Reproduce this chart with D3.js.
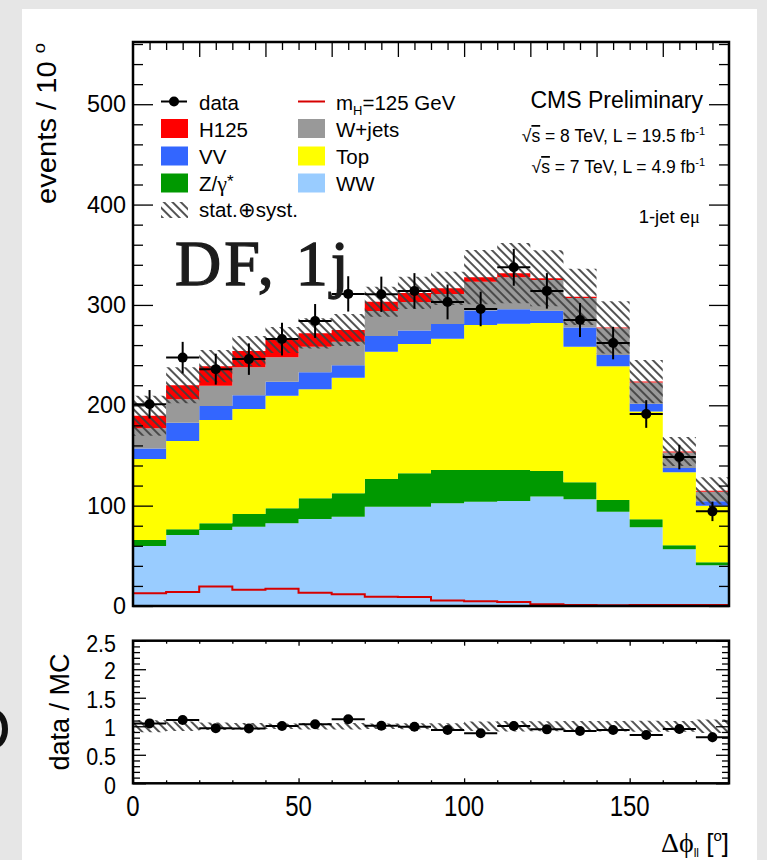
<!DOCTYPE html>
<html>
<head>
<meta charset="utf-8">
<script src="https://cdn.jsdelivr.net/npm/d3@7.9.0/dist/d3.min.js"></script>
<style>
  html, body { margin: 0; padding: 0; background: #e6e6e6; }
  svg { display: block; }
</style>
</head>
<body>
<div id="chart"></div>
<script>
// Delta phi_ll bins, 10 degrees wide
const edges = [0, 10, 20, 30, 40, 50, 60, 70, 80, 90, 100, 110, 120, 130, 140, 150, 160, 170, 180];

// stacked backgrounds (events per bin), bottom to top
const ww       = [59.8, 70.7, 75.7, 79, 82.4, 86.7, 89, 99, 99, 102.3, 104, 104.6, 109, 106.3, 94, 78.4, 56.5, 40.6];
const zgamma   = [6, 5.7, 6.7, 12.7, 14.9, 20.6, 23.3, 27.5, 33.2, 33.2, 31.5, 30.9, 25.5, 16.9, 11.6, 8.1, 4, 2.9];
const topQuark = [80.7, 88, 102.9, 104.6, 112.3, 108.7, 115.2, 126.9, 128.8, 130.8, 144.5, 145.8, 147.5, 135.2, 133.4, 107.3, 72.7, 56.5];
const vv       = [10.5, 18.2, 14, 13.7, 13.9, 16.8, 12.5, 15.6, 13.5, 14.7, 14.5, 14.5, 12.2, 19.1, 11, 7.7, 4.4, 4.4];
const wjets    = [20, 23.4, 20.2, 27.8, 24.3, 25.6, 23.4, 25, 28.5, 30, 28.5, 31.7, 30.6, 29.5, 26.8, 21.2, 15.4, 9.4];
const h125     = [12.6, 14, 19.5, 16.2, 17.2, 13.3, 11.6, 9.2, 9, 5.5, 4.7, 4.1, 1.8, 1.1, 0.8, 0.9, 0.9, 1];

// observed data and errors
const data     = [201, 247.5, 236, 246, 266, 284, 311, 310.6, 314, 303, 296, 337.5, 314, 285, 262, 191.3, 148.4, 94.3];
const dataErr  = [14.2, 15.7, 15.4, 15.7, 16.3, 16.9, 17.6, 17.6, 17.7, 17.4, 17.2, 18.4, 17.7, 16.9, 16.2, 13.8, 12.2, 9.7];
const systErr  = [20, 18, 16, 15, 13, 15, 16, 15, 16, 16.5, 27, 30, 28, 28, 26, 21.5, 14.5, 13.6];
const ratio    = [1.05, 1.11, 0.965, 0.96, 1.005, 1.034, 1.122, 1.01, 0.99, 0.934, 0.876, 1.005, 0.946, 0.917, 0.934, 0.847, 0.952, 0.806];

// tick labels
const mainYTicks = [0, 100, 200, 300, 400, 500];
const ratioYTicks = [0, 0.5, 1, 1.5, 2, 2.5];
const ratioXTicks = [0, 50, 100, 150];

const FONT = '"Liberation Sans", Arial, Helvetica, sans-serif';
const SERIF = '"Liberation Serif", "Times New Roman", serif';
const W = 767, H = 860;

const svg = d3.select('#chart').append('svg')
    .attr('width', W).attr('height', H)
    .style('font-family', FONT);

// slide backdrop
svg.append('rect').attr('width', W).attr('height', H).attr('fill', '#e6e6e6');
svg.append('rect').attr('x', 22).attr('y', 9).attr('width', 735).attr('height', H - 9).attr('fill', '#fff');
svg.append('ellipse').attr('cx', -5).attr('cy', 729).attr('rx', 10).attr('ry', 16)
    .attr('fill', 'none').attr('stroke', '#111').attr('stroke-width', 6);

const defs = svg.append('defs');
defs.append('pattern').attr('id', 'hatch')
    .attr('patternUnits', 'userSpaceOnUse')
    .attr('width', 6).attr('height', 6)
    .attr('patternTransform', 'rotate(-45)')
    .append('line')
    .attr('x1', 3).attr('y1', 0).attr('x2', 3).attr('y2', 6)
    .attr('stroke', '#404040').attr('stroke-width', 1.8);

// scales
const x = d3.scaleLinear().domain([0, 180]).range([133, 729]);
const y = d3.scaleLinear().domain([0, 562]).range([606, 42]);
const yr = d3.scaleLinear().domain([0, 2.5]).range([783.3, 640.7]);

const layers = [
    { key: 'ww', values: ww, color: '#99ccff' },
    { key: 'zg', values: zgamma, color: '#009900' },
    { key: 'top', values: topQuark, color: '#ffff00' },
    { key: 'vv', values: vv, color: '#3366ff' },
    { key: 'wj', values: wjets, color: '#999999' },
    { key: 'h', values: h125, color: '#ff0000' },
];

const table = edges.slice(0, -1).map((lo, i) => {
    const row = { lo, hi: edges[i + 1] };
    layers.forEach(l => row[l.key] = l.values[i]);
    return row;
});
const series = d3.stack().keys(layers.map(l => l.key))(table);
const total = table.map((d, i) => series[series.length - 1][i][1]);

const stepArea = d3.area().x(p => x(p.x)).y0(p => y(p.y0)).y1(p => y(p.y1));
const toSteps = (lows, highs) => table.flatMap((d, i) => [
    { x: d.lo, y0: lows[i], y1: highs[i] },
    { x: d.hi, y0: lows[i], y1: highs[i] }
]);

// ---- main panel ----
const main = svg.append('g');

main.selectAll('path.layer')
    .data(series)
    .join('path')
    .attr('class', 'layer')
    .attr('d', s => stepArea(toSteps(s.map(d => d[0]), s.map(d => d[1]))))
    .attr('fill', (s, i) => layers[i].color);

// signal alone as a line
const mhPts = [{ x: 0, v: 0 }, ...table.flatMap((d, i) => [{ x: d.lo, v: h125[i] }, { x: d.hi, v: h125[i] }])];
main.append('path')
    .attr('d', d3.line().x(p => x(p.x)).y(p => y(p.v))(mhPts))
    .attr('fill', 'none').attr('stroke', '#d60000').attr('stroke-width', 2);

// stat+syst band
main.append('path')
    .attr('d', stepArea(toSteps(total.map((t, i) => t - systErr[i]), total.map((t, i) => t + systErr[i]))))
    .attr('fill', 'url(#hatch)');

// data points
const pts = main.append('g').selectAll('g').data(data).join('g');
pts.append('line')
    .attr('x1', (d, i) => x(edges[i])).attr('x2', (d, i) => x(edges[i + 1]))
    .attr('y1', d => y(d)).attr('y2', d => y(d));
pts.append('line')
    .attr('x1', (d, i) => x((edges[i] + edges[i + 1]) / 2)).attr('x2', (d, i) => x((edges[i] + edges[i + 1]) / 2))
    .attr('y1', (d, i) => y(d - dataErr[i])).attr('y2', (d, i) => y(d + dataErr[i]));
pts.selectAll('line').attr('stroke', '#000').attr('stroke-width', 2);
pts.append('circle')
    .attr('cx', (d, i) => x((edges[i] + edges[i + 1]) / 2))
    .attr('cy', d => y(d)).attr('r', 5).attr('fill', '#000');

// axes helper
function styleAxis(g, fontSize) {
    g.select('.domain').remove();
    g.attr('font-family', FONT).attr('font-size', fontSize || 10);
    g.selectAll('.tick line').attr('stroke', '#000').attr('stroke-width', 1.3);
    g.selectAll('.tick text').attr('fill', '#000');
}
const minor = (a, b, step, skip) => d3.range(a, b + 1e-9, step).filter(v => Math.abs(v / skip - Math.round(v / skip)) > 1e-6);

svg.append('g').attr('transform', 'translate(133,0)')
    .call(d3.axisLeft(y).tickValues(mainYTicks).tickSize(-20).tickPadding(7).tickFormat(d3.format('d')))
    .call(g => styleAxis(g, 23.4));
svg.append('g').attr('transform', 'translate(133,0)')
    .call(d3.axisLeft(y).tickValues(minor(0, 560, 20, 100)).tickSize(-10).tickFormat(''))
    .call(g => styleAxis(g));
svg.append('g').attr('transform', 'translate(729,0)')
    .call(d3.axisRight(y).tickValues(mainYTicks).tickSize(-20).tickFormat(''))
    .call(g => styleAxis(g));
svg.append('g').attr('transform', 'translate(729,0)')
    .call(d3.axisRight(y).tickValues(minor(0, 560, 20, 100)).tickSize(-10).tickFormat(''))
    .call(g => styleAxis(g));
svg.append('g').attr('transform', 'translate(0,42)')
    .call(d3.axisTop(x).tickValues(d3.range(20, 180, 20)).tickSize(-15).tickFormat(''))
    .call(g => styleAxis(g));
svg.append('g').attr('transform', 'translate(0,42)')
    .call(d3.axisTop(x).tickValues(minor(5, 175, 5, 20)).tickSize(-8).tickFormat(''))
    .call(g => styleAxis(g));

svg.append('rect')
    .attr('x', x(0)).attr('y', y(562)).attr('width', x(180) - x(0)).attr('height', y(0) - y(562))
    .attr('fill', 'none').attr('stroke', '#000').attr('stroke-width', 2.5);

// big label
svg.append('text')
    .attr('x', 175).attr('y', 285)
    .attr('font-family', SERIF).attr('font-size', 64).attr('letter-spacing', 3)
    .attr('fill', '#1c1c1c').attr('stroke', '#1c1c1c').attr('stroke-width', 1.3)
    .text('DF, 1j');

// y title
const yt = svg.append('text')
    .attr('transform', 'translate(56,43) rotate(-90) scale(1.08,1)')
    .attr('text-anchor', 'end').attr('font-size', 27);
yt.append('tspan').text('events / 10 ');
yt.append('tspan').attr('font-size', 17).attr('dy', -11).text('o');

// legend
const rowY = [101.5, 128.5, 156, 183, 210];
const leg = svg.append('g').attr('font-size', 20.5);
leg.append('line').attr('x1', 161).attr('x2', 187).attr('y1', rowY[0]).attr('y2', rowY[0]).attr('stroke', '#000').attr('stroke-width', 2);
leg.append('circle').attr('cx', 174).attr('cy', rowY[0]).attr('r', 5).attr('fill', '#000');
leg.append('text').attr('x', 199).attr('y', rowY[0] + 8).text('data');

const boxes = [
    { x: 161, row: 1, color: '#ff0000', label: 'H125' },
    { x: 161, row: 2, color: '#3366ff', label: 'VV' },
    { x: 161, row: 3, color: '#009900', label: null },
    { x: 298, row: 1, color: '#999999', label: 'W+jets' },
    { x: 298, row: 2, color: '#ffff00', label: 'Top' },
    { x: 298, row: 3, color: '#99ccff', label: 'WW' },
];
boxes.forEach(b => {
    leg.append('rect').attr('x', b.x).attr('y', rowY[b.row] - 9.5).attr('width', 27).attr('height', 19).attr('fill', b.color);
    if (b.label) leg.append('text').attr('x', b.x + 38).attr('y', rowY[b.row] + 8).text(b.label);
});
const zl = leg.append('text').attr('x', 199).attr('y', rowY[3] + 8);
zl.append('tspan').text('Z/');
zl.append('tspan').attr('font-family', SERIF).attr('font-size', 22).text('γ');
zl.append('tspan').attr('dy', -4).attr('font-size', 17).text('*');
leg.append('rect').attr('x', 161).attr('y', rowY[4] - 8).attr('width', 27).attr('height', 16).attr('fill', 'url(#hatch)');
leg.append('text').attr('x', 199).attr('y', rowY[4] + 7).text('stat.⊕syst.');

leg.append('line').attr('x1', 298).attr('x2', 325).attr('y1', rowY[0]).attr('y2', rowY[0]).attr('stroke', '#d60000').attr('stroke-width', 2);
const mh = leg.append('text').attr('x', 336).attr('y', rowY[0] + 8);
mh.append('tspan').text('m');
mh.append('tspan').attr('font-size', 13).attr('dy', 5).text('H');
mh.append('tspan').attr('dy', -5).text('=125 GeV');

// CMS labels
svg.append('text').attr('x', 703).attr('y', 108).attr('text-anchor', 'end').attr('font-size', 23).text('CMS Preliminary');
function lumi(yPos, energy, lum) {
    const t = svg.append('text').attr('x', 705).attr('y', yPos).attr('text-anchor', 'end').attr('font-size', 17.5);
    t.append('tspan').text('√');
    t.append('tspan').attr('text-decoration', 'overline').text('s');
    t.append('tspan').text(` = ${energy} TeV, L = ${lum} fb`);
    t.append('tspan').attr('font-size', 11).attr('dy', -7).text('-1');
}
lumi(142, 8, 19.5);
lumi(173, 7, 4.9);
const jt = svg.append('text').attr('x', 700).attr('y', 223).attr('text-anchor', 'end').attr('font-size', 18.5);
jt.append('tspan').text('1-jet e');
jt.append('tspan').attr('font-family', SERIF).text('μ');

// ---- ratio panel ----
const rp = svg.append('g');
rp.append('path')
    .attr('d', d3.area().x(p => x(p.x)).y0(p => yr(p.y0)).y1(p => yr(p.y1))(
        toSteps(total.map((t, i) => 1 - systErr[i] / t), total.map((t, i) => 1 + systErr[i] / t))))
    .attr('fill', 'url(#hatch)');

const rpts = rp.append('g').selectAll('g').data(ratio).join('g');
rpts.append('line')
    .attr('x1', (d, i) => x(edges[i])).attr('x2', (d, i) => x(edges[i + 1]))
    .attr('y1', d => yr(d)).attr('y2', d => yr(d));
rpts.append('line')
    .attr('x1', (d, i) => x((edges[i] + edges[i + 1]) / 2)).attr('x2', (d, i) => x((edges[i] + edges[i + 1]) / 2))
    .attr('y1', (d, i) => yr(d - dataErr[i] / total[i])).attr('y2', (d, i) => yr(d + dataErr[i] / total[i]));
rpts.selectAll('line').attr('stroke', '#000').attr('stroke-width', 2);
rpts.append('circle')
    .attr('cx', (d, i) => x((edges[i] + edges[i + 1]) / 2))
    .attr('cy', d => yr(d)).attr('r', 5).attr('fill', '#000');

svg.append('g').attr('transform', 'translate(133,0)')
    .call(d3.axisLeft(yr).tickValues(ratioYTicks).tickSize(-13).tickPadding(17).tickFormat(d3.format('')))
    .call(g => styleAxis(g, 21.5))
    .call(g => g.selectAll('.tick text')
        .attr('transform', d => d === 2.5 ? 'translate(0,3) scale(1,1.12)' : 'translate(0,2) scale(1,1.12)'));
svg.append('g').attr('transform', 'translate(133,0)')
    .call(d3.axisLeft(yr).tickValues(minor(0, 2.5, 0.1, 0.5)).tickSize(-7).tickFormat(''))
    .call(g => styleAxis(g));
svg.append('g').attr('transform', 'translate(729,0)')
    .call(d3.axisRight(yr).tickValues(ratioYTicks).tickSize(-13).tickFormat(''))
    .call(g => styleAxis(g));
svg.append('g').attr('transform', 'translate(729,0)')
    .call(d3.axisRight(yr).tickValues(minor(0, 2.5, 0.1, 0.5)).tickSize(-7).tickFormat(''))
    .call(g => styleAxis(g));
svg.append('g').attr('transform', 'translate(0,783.3)')
    .call(d3.axisBottom(x).tickValues(ratioXTicks).tickSize(-5).tickFormat(''))
    .call(g => styleAxis(g));
svg.append('g').attr('transform', 'translate(0,783.3)')
    .call(d3.axisBottom(x).tickValues(minor(10, 170, 10, 50)).tickSize(-3).tickFormat(''))
    .call(g => styleAxis(g));
svg.append('g').attr('transform', 'translate(0,640.7)')
    .call(d3.axisTop(x).tickValues(ratioXTicks).tickSize(-5).tickFormat(''))
    .call(g => styleAxis(g));
svg.append('g').attr('transform', 'translate(0,640.7)')
    .call(d3.axisTop(x).tickValues(minor(10, 170, 10, 50)).tickSize(-3).tickFormat(''))
    .call(g => styleAxis(g));

rp.append('rect')
    .attr('x', x(0)).attr('y', yr(2.5)).attr('width', x(180) - x(0)).attr('height', yr(0) - yr(2.5))
    .attr('fill', 'none').attr('stroke', '#000').attr('stroke-width', 2.5);

// x tick labels, drawn a little tall like the original
svg.append('g').selectAll('text').data(ratioXTicks).join('text')
    .attr('transform', d => `translate(${x(d)},816) scale(1,1.25)`)
    .attr('text-anchor', 'middle').attr('font-size', 24)
    .text(d => d);

svg.append('text')
    .attr('transform', 'translate(69,712) rotate(-90)')
    .attr('text-anchor', 'middle').attr('font-size', 27)
    .text('data / MC');

const xt = svg.append('text').attr('x', 729).attr('y', 852).attr('text-anchor', 'end').attr('font-size', 26);
xt.append('tspan').attr('font-family', SERIF).attr('font-size', 28).text('Δϕ');
xt.append('tspan').attr('font-size', 12).attr('dy', 5).text('ll');
xt.append('tspan').attr('dy', -5).text(' [');
xt.append('tspan').attr('font-size', 15).attr('dy', -11).text('o');
xt.append('tspan').attr('dy', 11).text(']');
</script>
</body>
</html>
